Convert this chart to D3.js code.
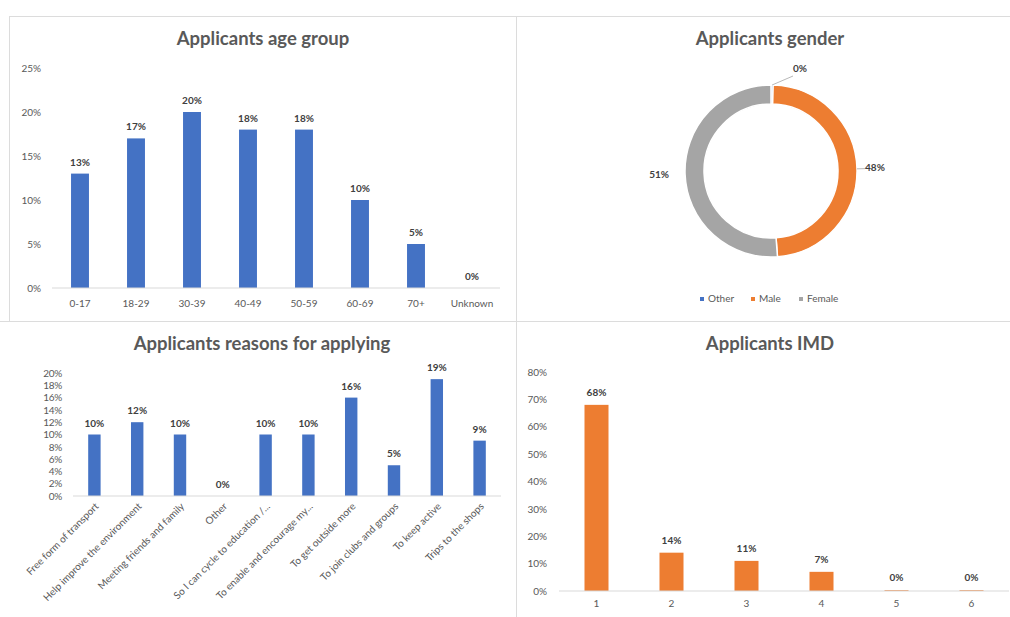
<!DOCTYPE html>
<html>
<head>
<meta charset="utf-8">
<script src="https://cdn.jsdelivr.net/npm/d3@7"></script>
<style>
  html, body { margin: 0; padding: 0; background: #fff; }
  svg { display: block; font-family: Lato, "Open Sans", sans-serif; }
</style>
</head>
<body>
<svg id="chart" width="1010" height="617"></svg>
<script>
// ---------- DATA ----------
const ageCategories = ["0-17", "18-29", "30-39", "40-49", "50-59", "60-69", "70+", "Unknown"];
const ageValues = [0.13, 0.17, 0.20, 0.18, 0.18, 0.10, 0.05, 0.00];
const ageTicks = [0, 0.05, 0.10, 0.15, 0.20, 0.25];

const genderCategories = ["Other", "Male", "Female"];
const genderValues = [0.004, 0.484, 0.512];

const reasonCategories = ["Free form of transport", "Help improve the environment", "Meeting friends and family", "Other",
  "So I can cycle to education /...", "To enable and encourage my...", "To get outside more",
  "To join clubs and groups", "To keep active", "Trips to the shops"];
const reasonValues = [0.10, 0.12, 0.10, 0.00, 0.10, 0.10, 0.16, 0.05, 0.19, 0.09];
const reasonTicks = [0, 0.02, 0.04, 0.06, 0.08, 0.10, 0.12, 0.14, 0.16, 0.18, 0.20];

const imdCategories = ["1", "2", "3", "4", "5", "6"];
const imdValues = [0.68, 0.14, 0.11, 0.07, 0.003, 0.003];
const imdTicks = [0, 0.1, 0.2, 0.3, 0.4, 0.5, 0.6, 0.7, 0.8];

// ---------- STYLE ----------
const BLUE = "#4472C4", ORANGE = "#ED7D31", GRAY = "#A5A5A5";
const TEXT = "#595959", LABEL = "#404040", AXIS = "#D9D9D9", BORDER = "#DCDCDC";
const pct = d3.format(".0%");

const svg = d3.select("#chart");

// panel borders
const borders = svg.append("g").attr("stroke", BORDER).attr("stroke-width", 1).attr("fill", "none");
borders.append("line").attr("x1", 9).attr("x2", 1010).attr("y1", 16.5).attr("y2", 16.5);
borders.append("line").attr("x1", 9.5).attr("x2", 9.5).attr("y1", 16).attr("y2", 322);
borders.append("line").attr("x1", 0).attr("x2", 1010).attr("y1", 321.5).attr("y2", 321.5);
borders.append("line").attr("x1", 516.5).attr("x2", 516.5).attr("y1", 16).attr("y2", 617);

function title(text, cx, cy) {
  svg.append("text").attr("x", cx).attr("y", cy).attr("text-anchor", "middle")
    .attr("dominant-baseline", "middle")
    .attr("font-size", 18.5).attr("font-weight", 700).attr("fill", TEXT).text(text);
}

function barChart(o) {
  const x = d3.scaleBand().domain(o.cats).range(o.xr).paddingInner(o.pad).paddingOuter(o.pad / 2);
  const y = d3.scaleLinear().domain(o.yd).range(o.yr);
  const g = svg.append("g");
  // y axis labels
  const ya = d3.axisLeft(y).tickValues(o.ticks).tickFormat(pct).tickSize(0).tickPadding(0);
  const yg = g.append("g").attr("transform", `translate(${o.yLabelX},0)`).call(ya);
  yg.select(".domain").remove();
  yg.selectAll("text").attr("font-size", o.tickFont).attr("fill", TEXT).attr("font-family", "Lato, sans-serif")
    .attr("letter-spacing", o.tickSpacing || 0);
  // bars
  g.selectAll("rect.bar").data(o.vals).join("rect").attr("class", "bar")
    .attr("x", (d, i) => x(o.cats[i])).attr("width", x.bandwidth())
    .attr("y", d => y(d)).attr("height", d => y(0) - y(d)).attr("fill", o.color);
  // baseline axis
  const xa = d3.axisBottom(x).tickSize(0).tickPadding(0);
  const xg = g.append("g").attr("transform", `translate(0,${y(0)})`).call(xa);
  xg.select(".domain").attr("stroke", AXIS).attr("d", `M${o.xr[0]},0H${o.xr[1]}`);
  xg.selectAll("text").attr("font-size", o.xFont).attr("fill", TEXT).attr("font-family", "Lato, sans-serif");
  if (o.rotate) {
    xg.selectAll("text")
      .attr("text-anchor", "end").attr("dy", 0)
      .attr("transform", `translate(5,${o.xLabelDy}) rotate(-45)`);
  } else {
    xg.selectAll("text").attr("dy", 0).attr("y", o.xLabelDy);
  }
  // data labels
  g.selectAll("text.dl").data(o.vals).join("text").attr("class", "dl")
    .attr("x", (d, i) => x(o.cats[i]) + x.bandwidth() / 2)
    .attr("y", d => y(d) - o.labelGap)
    .attr("text-anchor", "middle").attr("font-size", o.labelFont).attr("font-weight", 700)
    .attr("fill", LABEL).text(d => pct(d));
}

// ---------- Age group ----------
title("Applicants age group", 263, 40);
barChart({
  cats: ageCategories, vals: ageValues, ticks: ageTicks,
  xr: [52, 500], pad: 0.68, yd: [0, 0.25], yr: [288, 68],
  yLabelX: 41, tickFont: 10, xFont: 10, xLabelDy: 19, labelFont: 10, labelGap: 8, color: BLUE
});

// ---------- Reasons ----------
title("Applicants reasons for applying", 262, 345);
barChart({
  cats: reasonCategories, vals: reasonValues, ticks: reasonTicks,
  xr: [73, 501], pad: 0.71, yd: [0, 0.20], yr: [496, 373],
  yLabelX: 62, tickFont: 10, tickSpacing: -0.3, xFont: 10, xLabelDy: 11, rotate: true,
  labelFont: 10, labelGap: 8, color: BLUE
});

// ---------- IMD ----------
title("Applicants IMD", 770, 345);
barChart({
  cats: imdCategories, vals: imdValues, ticks: imdTicks,
  xr: [559, 1009], pad: 0.68, yd: [0, 0.8], yr: [591, 372],
  yLabelX: 547, tickFont: 10, xFont: 10, xLabelDy: 16, labelFont: 10, labelGap: 9, color: ORANGE
});

// ---------- Gender donut ----------
title("Applicants gender", 770, 40);
const cx = 771, cy = 171, rOut = 86, rIn = 67;
const gColors = d3.scaleOrdinal().domain(genderCategories).range([BLUE, ORANGE, GRAY]);
const pie = d3.pie().sort(null).value(d => d)(genderValues);
const arc = d3.arc().innerRadius(rIn).outerRadius(rOut);
const dg = svg.append("g").attr("transform", `translate(${cx},${cy})`);
dg.selectAll("path").data(pie).join("path")
  .attr("d", arc).attr("fill", (d, i) => gColors(genderCategories[i]))
  .attr("stroke", "#fff").attr("stroke-width", 1.5);

// labels with leader lines
const labelR = [108, 104, 112];
pie.forEach((p, i) => {
  const a = (p.startAngle + p.endAngle) / 2;
  let lx = Math.sin(a) * labelR[i], ly = -Math.cos(a) * labelR[i];
  if (i === 0) { lx = 29; ly = -102; }
  dg.append("text").attr("x", lx).attr("y", ly).attr("text-anchor", "middle")
    .attr("dominant-baseline", "middle").attr("font-size", 10).attr("font-weight", 700)
    .attr("fill", LABEL).text(pct(genderValues[i]));
  if (i === 0) {
    dg.append("line").attr("x1", Math.sin(a) * rOut).attr("y1", -Math.cos(a) * rOut)
      .attr("x2", 22).attr("y2", -95).attr("stroke", "#A6A6A6").attr("stroke-width", 0.8);
  }
  if (i === 1) {
    dg.append("line").attr("x1", Math.sin(a) * rOut).attr("y1", -Math.cos(a) * rOut)
      .attr("x2", Math.sin(a) * 94).attr("y2", -Math.cos(a) * 94)
      .attr("stroke", "#A6A6A6").attr("stroke-width", 0.8);
  }
});

// legend
const legendX = [700, 751, 799];
const lg = svg.append("g");
genderCategories.forEach((c, i) => {
  lg.append("rect").attr("x", legendX[i]).attr("y", 297).attr("width", 4).attr("height", 4)
    .attr("fill", gColors(c));
  lg.append("text").attr("x", legendX[i] + 8).attr("y", 299).attr("dominant-baseline", "middle")
    .attr("font-size", 10).attr("fill", TEXT).text(c);
});
</script>
</body>
</html>
